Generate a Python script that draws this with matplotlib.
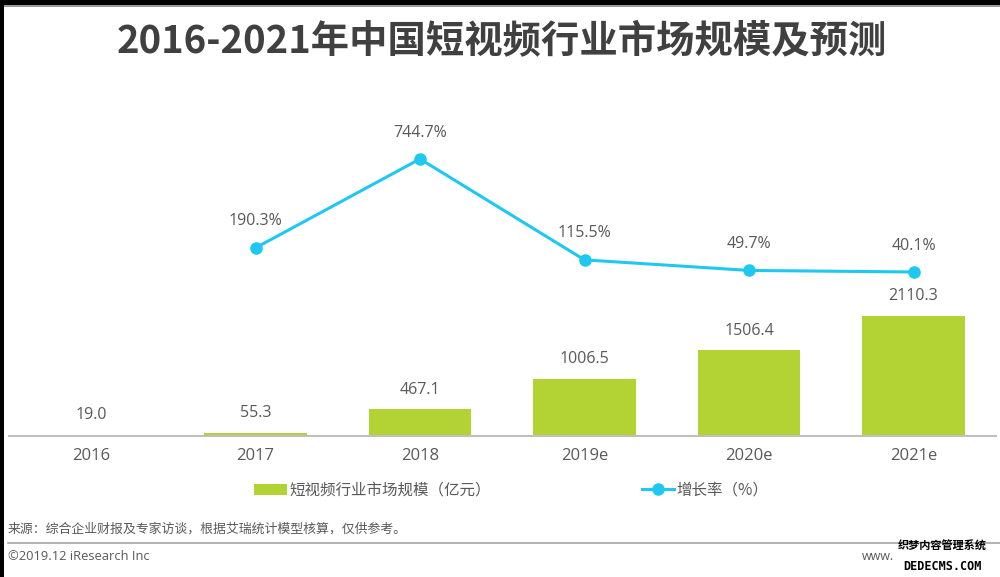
import matplotlib
matplotlib.use("Agg")
import matplotlib.pyplot as plt
from matplotlib.patches import Patch, Rectangle
from matplotlib.lines import Line2D


# =====================================
# DATA
# =====================================

years=["2016","2017","2018","2019e","2020e","2021e"]

market=[19.0,55.3,467.1,1006.5,1506.4,2110.3]

growth_years=[1,2,3,4,5]
growth=[190.3,744.7,115.5,49.7,40.1]


# =====================================
# STYLE
# =====================================

plt.rcParams["font.family"]=["Open Sans","Noto Sans CJK SC","DejaVu Sans"]

GREEN="#B3D234"
CYAN="#1EC8F0"
TXT="#595959"
CJK=["Noto Sans CJK SC","DejaVu Sans"]


# =====================================
# FIGURE
# =====================================

fig=plt.figure(figsize=(10,5.77),dpi=100)

ax=fig.add_axes([0.00875,1-436/577,0.987,296/577])

x=list(range(len(years)))

ax.bar(x,market,width=0.626,color=GREEN,zorder=2)

for xi,v in zip(x,market):
    ax.annotate(
        f"{v:.1f}",
        (xi,v),
        xytext=(0,14),
        textcoords="offset points",
        ha="center",
        va="center",
        fontsize=11.5,
        color=TXT
    )

ax.set_xlim(-0.5,len(years)-0.5)
ax.set_ylim(0,296/0.0569)

ax.set_xticks(x)
ax.set_xticklabels(years,fontsize=12,color=TXT)
ax.tick_params(axis="x",length=0,pad=9)
ax.set_yticks([])

for s in ["top","left","right"]:
    ax.spines[s].set_visible(False)
ax.spines["bottom"].set_color("#BFBFBF")
ax.spines["bottom"].set_linewidth(1.5)


# -------------------------------------
# growth line
# -------------------------------------

ax2=ax.twinx()

ax2.plot(
    growth_years,
    growth,
    color=CYAN,
    linewidth=2.2,
    marker="o",
    markersize=8,
    zorder=3
)

for xi,v in zip(growth_years,growth):
    ax2.annotate(
        f"{v:.1f}%",
        (xi,v),
        xytext=(0,19),
        textcoords="offset points",
        ha="center",
        va="center",
        fontsize=11.5,
        color=TXT
    )

ax2.set_ylim(-157.6/0.1604,138.4/0.1604)
ax2.set_yticks([])
for s in ax2.spines.values():
    s.set_visible(False)


# =====================================
# TITLE / LEGEND / NOTES
# =====================================

fig.text(
    0.5015,1-41/577,
    "2016-2021年中国短视频行业市场规模及预测",
    ha="center",
    va="center",
    fontsize=27.6,
    fontweight="bold",
    family=CJK,
    color="#404040"
)

handles=[
    Patch(facecolor=GREEN,edgecolor="none"),
    Line2D([0],[0],color=CYAN,linewidth=2.2,marker="o",markersize=8)
]

fig.legend(
    handles,
    ["短视频行业市场规模（亿元）","增长率（%）"],
    loc="center",
    bbox_to_anchor=(0.5115,1-490/577),
    ncol=2,
    frameon=False,
    labelcolor=TXT,
    handlelength=2.1,
    handletextpad=0.15,
    columnspacing=9.7,
    prop={"family":CJK,"size":11.2}
)

fig.text(
    0.008,1-529/577,
    "来源：综合企业财报及专家访谈，根据艾瑞统计模型核算，仅供参考。",
    ha="left",
    va="center",
    fontsize=9.3,
    family=CJK,
    color=TXT
)

fig.add_artist(Line2D([0.008,1.0],[1-543/577,1-543/577],color="#A6A6A6",linewidth=1.2))

fig.text(
    0.008,1-557/577,
    "©2019.12 iResearch Inc",
    ha="left",
    va="center",
    fontsize=9.3,
    color=TXT
)

# only the start of the site address shows from under the watermark
fig.text(
    0.862,1-557/577,
    "www.",
    ha="left",
    va="center",
    fontsize=9,
    color=TXT
)

# watermark
fig.add_artist(Rectangle((0.89,1-575/577),0.108,32/577,facecolor="white",edgecolor="none",transform=fig.transFigure))
fig.text(0.942,1-546/577,"织梦内容管理系统",ha="center",va="center",fontsize=8,fontweight="bold",
         family=CJK,color="black")
fig.text(0.942,1-567/577,"DEDECMS.COM",ha="center",va="center",fontsize=8.5,fontweight="bold",
         family="DejaVu Sans Mono",color="black")

# screenshot frame
fig.add_artist(Rectangle((0,1-5/577),1,5/577,facecolor="black",edgecolor="none",transform=fig.transFigure))
fig.add_artist(Rectangle((0,1-7/577),1,2/577,facecolor="#9A9A9A",edgecolor="none",transform=fig.transFigure))
fig.add_artist(Rectangle((0,0),4/1000,1,facecolor="black",edgecolor="none",transform=fig.transFigure))


# =====================================
# SAVE
# =====================================

fig.savefig("out.png",dpi=100)
